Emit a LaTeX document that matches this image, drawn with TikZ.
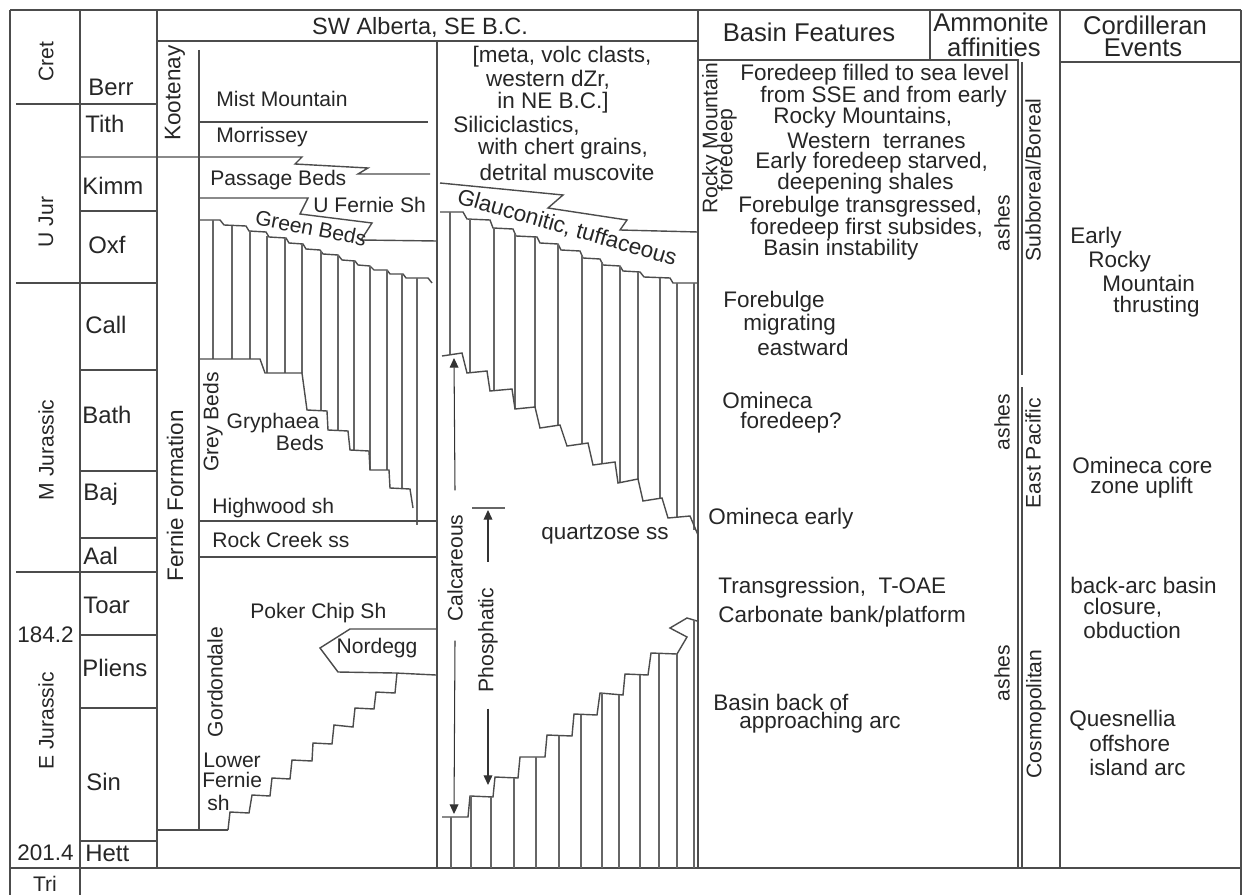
\documentclass[tikz,border=0pt]{standalone}
\usepackage{fontspec}
\setmainfont{Liberation Sans}
\usetikzlibrary{arrows.meta}

\begin{document}
\begin{tikzpicture}[x=0.02cm, y=-0.02cm,
      ln/.style = {line width=0.8pt, draw=black!70},
    hair/.style = {line width=0.6pt, draw=black!60},
     ptr/.style = {line width=0.6pt, draw=black!80,
                   -{Triangle[length=5.5pt,width=5pt]}},
     txt/.style = {inner sep=0pt, text=black!85,
                   font=\fontsize{12.8}{15}\selectfont},
    ftxt/.style = {txt, font=\fontsize{12}{14}\selectfont},
     stg/.style = {txt, font=\fontsize{13.6}{16}\selectfont},
     hdr/.style = {txt, font=\fontsize{14.6}{17}\selectfont},
     rot/.style = {rotate=90}
                    ]
\useasboundingbox (0,0) rectangle (1243,895);
% frame and columns
\draw[ln] (10,10) -- (1241,10);
\draw[ln] (10,10) -- (10,895);
\draw[ln] (1241,10) -- (1241,895);
\draw[ln] (10,868) -- (1241,868);
\draw[ln] (80,10) -- (80,895);
\draw[ln] (157,10) -- (157,868);
\draw[ln] (157,41) -- (698,41);
\draw[ln] (437,41) -- (437,868);
\draw[ln] (698,10) -- (698,868);
\draw[ln] (698,60) -- (1018,60) -- (1018,868);
\draw[ln] (930,10) -- (930,60);
\draw[ln] (1022,62) -- (1022,375) (1022,387) -- (1022,868);
\draw[ln] (1060,10) -- (1060,868);
\draw[ln] (1060,62) -- (1241,62);
\foreach \y in {104,283,572} \draw[ln] (16,\y) -- (157,\y);
\foreach \y in {211,370,471,538,635,708,841} \draw[ln] (80,\y) -- (157,\y);

% time scale
\node[ftxt,rot] (cret) at (46,62)  {Cret};
\node[ftxt,rot] (ujur) at (46,222) {U Jur};
\node[ftxt,rot] (mjur) at (46,450) {M Jurassic};
\node[ftxt,rot] (ejur) at (46,721) {E Jurassic};
\node[txt,anchor=east] (a184) at (74,635) {184.2};
\node[txt,anchor=east] (a201) at (74,853) {201.4};
\node[ftxt] (tri) at (45,884) {Tri};
\foreach \n/\x/\y in {Berr/88/87, Tith/85/124, Kimm/82/186, Oxf/88/245,
    Call/85/325, Bath/82/415, Baj/83/494, Aal/83/556, Toar/83/605,
    Pliens/82/668, Sin/86/782, Hett/85/853}
  \node[stg,anchor=west] (\n) at (\x,\y) {\n};

% SW Alberta section
\node[hdr,font=\fontsize{13.4}{16}\selectfont] (swab) at (420,27) {SW Alberta, SE B.C.};
\draw[ln] (199,50) -- (199,830);
\draw[ln] (157,830) -- (228,830);
\draw[ln] (199,122) -- (428,122);
\draw[ln] (80,157) -- (302,157) -- (295,164) -- (368,168) -- (358,174) -- (430,174);
\draw[ln] (199,198) -- (308,198) -- (300,214) -- (372,223) -- (361,240) -- (437,241);
\draw[ln] (199,220) -- (220,220) -- (224,225) -- (246,226) -- (249,231) -- (266,232)
    -- (269,237) -- (286,238) -- (289,243) -- (303,244) -- (306,249) -- (320,250)
    -- (323,254) -- (338,255) -- (342,260) -- (355,261) -- (358,265) -- (370,266)
    -- (374,270) -- (387,270) -- (390,274) -- (403,274) -- (406,278) -- (428,278)
    -- (432,283);
\foreach \x/\a/\b in {213/220/359, 232/226/359, 250/231/359, 267/236/373,
    285/238/373, 302/244/373, 321/251/411, 338/255/430, 354/261/450,
    370/266/470, 387/270/470, 402/274/489, 417/278/525}
  \draw[hair] (\x,\a) -- (\x,\b);
\draw[ln] (200,359) -- (260,359) -- (265,373) -- (302,373) -- (307,410) -- (327,411)
    -- (328,430) -- (348,431) -- (350,450) -- (369,451) -- (370,470) -- (389,470)
    -- (390,488) -- (410,489) -- (413,508);
\draw[ln] (200,521) -- (437,521);
\draw[ln] (200,557) -- (437,557);
\draw[ln] (436,629) -- (350,629) -- (320,648) -- (338,672) -- (395,673) -- (436,675);
\draw[ln] (228,830) -- (230,812) -- (249,813) -- (252,795) -- (270,796) -- (272,778)
    -- (290,779) -- (292,760) -- (312,761) -- (313,743) -- (332,744) -- (334,725)
    -- (353,727) -- (355,708) -- (374,709) -- (376,692) -- (395,693) -- (397,673);

\node[txt,rot] (koot) at (175,93)  {Kootenay};
\node[txt,rot] (fern) at (175,496) {Fernie Formation};
\node[ftxt,anchor=west] (mist) at (216,99)  {Mist Mountain};
\node[ftxt,anchor=west] (morr) at (216,137) {Morrissey};
\node[ftxt,anchor=west] (pass) at (210,180) {Passage Beds};
\node[ftxt,anchor=west] (ufer) at (313,205) {U Fernie Sh};
\node[ftxt,rotate=-11] (gren) at (311,228) {Green Beds};
\node[ftxt,rot] (grey) at (213,422) {Grey Beds};
\node[ftxt] (gryp) at (273,423) {Gryphaea};
\node[ftxt] (gbed) at (300,443) {Beds};
\node[ftxt,anchor=west] (high) at (212,508) {Highwood sh};
\node[ftxt,anchor=west] (rock) at (212,540) {Rock Creek ss};
\node[ftxt,anchor=west] (poke) at (250,613) {Poker Chip Sh};
\node[ftxt] (nord) at (377,648) {Nordegg};
\node[ftxt,rot] (gord) at (215,682) {Gordondale};
\node[ftxt,anchor=west] (lowr) at (203,760) {Lower};
\node[ftxt,anchor=west] (lfer) at (202,780) {Fernie};
\node[ftxt,anchor=west] (lsh)  at (207,803) {sh};

% NE B.C. column
\node[txt] (meta) at (562,57)  {[meta, volc clasts,};
\node[txt] (dzr)  at (548,80)  {western dZr,};
\node[txt] (nebc) at (553,103) {in NE B.C.]};
\node[txt,anchor=west] (sili) at (453,126) {Siliciclastics,};
\node[txt] (cher) at (563,149) {with chert grains,};
\node[txt] (musc) at (567,172) {detrital muscovite};
\node[txt,rotate=-16] (glau) at (567,228) {Glauconitic, tuffaceous};
\draw[ln] (440,183) -- (563,195) -- (548,208) -- (627,220) -- (620,230) -- (698,232);
\draw[ln] (440,212) -- (463,212) -- (467,219) -- (490,220) -- (493,228) -- (513,229)
    -- (516,236) -- (537,237) -- (540,243) -- (558,244) -- (561,250) -- (580,251)
    -- (583,258) -- (600,259) -- (603,265) -- (620,266) -- (623,271) -- (640,272)
    -- (644,277) -- (670,278) -- (673,283) -- (698,283);
\foreach \x/\a/\b in {450/212/355, 470/219/373, 494/228/391, 515/233/409,
    535/237/407, 558/244/425, 582/255/444, 602/262/464, 620/266/483,
    638/272/479, 660/278/498, 677/283/517, 694/283/530}
  \draw[hair] (\x,\a) -- (\x,\b);
\draw[ln] (442,356) -- (462,353) -- (467,373) -- (487,371) -- (490,391) -- (512,389)
    -- (515,409) -- (535,407) -- (540,428) -- (560,425) -- (567,446) -- (588,443)
    -- (593,465) -- (615,462) -- (618,483) -- (638,479) -- (643,501) -- (662,498)
    -- (668,518) -- (690,516) -- (698,535);
\node[txt] (quar) at (605,535) {quartzose ss};
\draw[ln] (442,817) -- (468,817) -- (470,796) -- (493,797) -- (495,777) -- (518,778)
    -- (520,757) -- (545,757) -- (547,735) -- (572,736) -- (574,714) -- (597,715)
    -- (600,693) -- (623,695) -- (625,674) -- (648,675) -- (651,653) -- (677,654)
    -- (687,637) -- (670,628) -- (687,618) -- (697,621);
\foreach \x/\a in {451/817, 471/796, 491/797, 514/778, 536/757, 559/736,
    581/715, 602/693, 619/695, 640/675, 659/654, 677/654, 694/620}
  \draw[hair] (\x,\a) -- (\x,868);
\node[ftxt,rot] (calc) at (455,568) {Calcareous};
\node[ftxt,rot] (phos) at (488,640) {Phosphatic};
\coordinate (calctop) at (454,358);
\coordinate (calcbot) at (454,814);
\coordinate (phostop) at (488,510);
\coordinate (phosbot) at (488,785);
\draw[hair] (472,508) -- (505,508);
\draw[ptr] ([yshift=0.48cm]calc.east) -- (calctop);
\draw[ptr] ([yshift=-0.38cm]calc.west) -- (calcbot);
\draw[ptr] ([yshift=0.52cm]phos.east) -- (phostop);
\draw[ptr] ([yshift=-0.32cm]phos.west) -- (phosbot);

% basin features
\node[hdr] (bfhd) at (809,32) {Basin Features};
\node[ftxt,rot] (rmtn) at (712,138) {Rocky Mountain};
\node[ftxt,rot] (rfor) at (727,150) {foredeep};
\foreach \x/\y/\t in {740/75/{Foredeep filled to sea level},
    760/97/{from SSE and from early}, 773/118/{Rocky Mountains,},
    787/141/{Western\ \ terranes}, 755/163/{Early foredeep starved,},
    777/184/{deepening shales}, 738/207/{Forebulge transgressed,},
    750/229/{foredeep first subsides,}, 763/250/{Basin instability},
    723/302/{Forebulge}, 743/325/{migrating}, 757/347/{eastward},
    722/400/{Omineca}, 740/423/{foredeep?}, 708/519/{Omineca early},
    718/588/{Transgression,\ \ T-OAE}, 718/617/{Carbonate bank/platform},
    713/702/{Basin back of}, 739/723/{approaching arc}}
  \node[txt,anchor=west] (bf\y) at (\x,\y) {\t};
\foreach \y in {223,422,673}
  \node[ftxt,rot] (ash\y) at (1002,\y) {ashes};

% ammonite affinities
\node[hdr] (amm1) at (991,22) {Ammonite};
\node[hdr] (amm2) at (994,47) {affinities};
\node[ftxt,rot] (subb) at (1033,180) {Subboreal/Boreal};
\node[ftxt,rot] (epac) at (1033,453) {East Pacific};
\node[ftxt,rot] (cosm) at (1036,714) {Cosmopolitan};

% cordilleran events
\node[hdr] (cor1) at (1145,25) {Cordilleran};
\node[hdr] (cor2) at (1143,48) {Events};
\foreach \x/\y/\t in {1070/238/{Early}, 1088/262/{Rocky}, 1102/283/{Mountain},
    1113/307/{thrusting}, 1072/465/{Omineca core}, 1090/488/{zone uplift},
    1070/585/{back-arc basin}, 1083/608/{closure,}, 1083/630/{obduction},
    1069/720/{Quesnellia}, 1089/743/{offshore}, 1089/767/{island arc}}
  \node[txt,anchor=west] (ce\y) at (\x,\y) {\t};
\end{tikzpicture}
\end{document}
